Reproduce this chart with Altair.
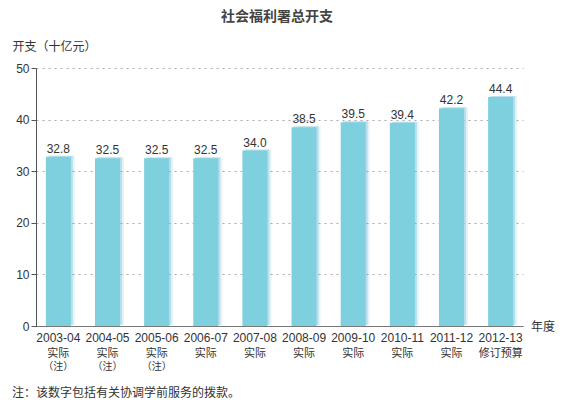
import altair as alt
import pandas as pd

years = ["2003-04", "2004-05", "2005-06", "2006-07", "2007-08",
         "2008-09", "2009-10", "2010-11", "2011-12", "2012-13"]
values = [32.8, 32.5, 32.5, 32.5, 34.0, 38.5, 39.5, 39.4, 42.2, 44.4]
kinds = ["实际", "实际", "实际", "实际", "实际",
         "实际", "实际", "实际", "实际", "修订预算"]
notes = ["（注）", "（注）", "（注）", "", "", "", "", "", "", ""]

df = pd.DataFrame({"year": years, "value": values, "kind": kinds, "note": notes})

FONT = "Liberation Sans, Arial, Noto Sans CJK SC"
W, H = 487, 258

x = alt.X("year:N", sort=years, title=None,
          scale=alt.Scale(paddingInner=0.49, paddingOuter=0.2),
          axis=alt.Axis(labelAngle=0, ticks=False, domainColor="#777",
                        labelColor="#333", labelFontSize=12, labelPadding=6,
                        labelFont=FONT))
y = alt.Y("value:Q", title="开支（十亿元）",
          scale=alt.Scale(domain=[0, 50]),
          axis=alt.Axis(values=[0, 10, 20, 30, 40, 50], tickSize=5,
                        tickColor="#555", domainColor="#555",
                        labelColor="#333", labelFontSize=12, labelPadding=2,
                        labelFont=FONT,
                        grid=True, gridDash=[2, 4], gridColor="#aaa",
                        titleAngle=0, titleAlign="left", titleBaseline="middle",
                        titleX=-24, titleY=-22, titleFont=FONT,
                        titleFontSize=12, titleFontWeight="normal",
                        titleColor="#333"))

base = alt.Chart(df)

# soft shadow on the right of each bar
shadow2 = base.mark_bar(color="#5aaed0", opacity=0.15, xOffset=4, yOffset=-1).encode(x=x, y=y)
shadow = base.mark_bar(color="#5aaed0", opacity=0.3, xOffset=2, yOffset=-1).encode(x=x, y=y)
bars = base.mark_bar(color="#7fd0df").encode(x=x, y=y)

labels = base.mark_text(dy=-8, fontSize=12, color="#333", font=FONT).encode(
    x=x, y=y, text=alt.Text("value:Q", format=".1f"))

kind_text = base.mark_text(fontSize=11, color="#333", font=FONT, baseline="middle").encode(
    x=x, y=alt.value(H + 28), text="kind:N")
note_text = base.mark_text(fontSize=10, color="#333", font=FONT, baseline="middle").encode(
    x=x, y=alt.value(H + 41), text="note:N")

one = alt.Chart(alt.Data(values=[{}]))
title = one.mark_text(fontSize=14, fontWeight="bold", color="#444", font=FONT).encode(
    x=alt.value(241), y=alt.value(-51), text=alt.value("社会福利署总开支"))
xname = one.mark_text(fontSize=12, color="#333", font=FONT, align="left").encode(
    x=alt.value(495), y=alt.value(H + 1), text=alt.value("年度"))
foot = one.mark_text(fontSize=12, color="#333", font=FONT, align="left").encode(
    x=alt.value(-24), y=alt.value(H + 67), text=alt.value("注：该数字包括有关协调学前服务的拨款。"))

chart = alt.layer(shadow2, shadow, bars, labels, kind_text, note_text, title, xname, foot).properties(
    width=W, height=H,
    autosize=alt.AutoSizeParams(type="none"),
    padding={"left": 28, "top": 60, "right": 35, "bottom": 80},
).configure_view(stroke=None)

chart.save("out.html", embed_options={"renderer": "svg", "actions": False})
